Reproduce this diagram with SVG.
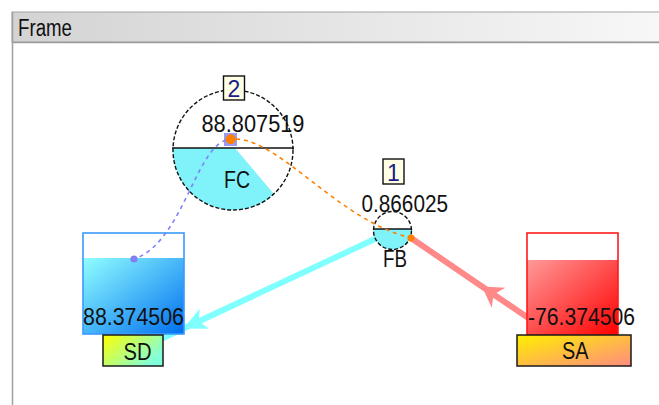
<svg xmlns="http://www.w3.org/2000/svg" width="659" height="405" viewBox="0 0 659 405">
<style>
  text { font-family: "Liberation Sans", Arial, sans-serif; font-size: 23px; fill: #111; }
  .ring { fill: none; stroke: #111; stroke-width: 1.4; stroke-dasharray: 4 2; }
  .level { stroke: #111; stroke-width: 1.6; }
  .cyan { fill: #80f2fa; }
  .flow { fill: none; stroke-width: 6; stroke-linejoin: round; }
  .sig { fill: none; stroke-width: 1.6; stroke-dasharray: 4 4; }
  .tag { fill: #ffffe6; stroke: #111; stroke-width: 1.4; }
  .tagtxt { fill: #1c1c8a; text-anchor: middle; }
  .lbl { stroke: #1a1a1a; stroke-width: 1.5; }
</style>
<defs>
  <linearGradient id="gTitle" x1="0" y1="0" x2="1" y2="0">
    <stop offset="0" stop-color="#d3d3d3"/>
    <stop offset="1" stop-color="#f8f8f8"/>
  </linearGradient>
  <linearGradient id="gBlue" x1="0" y1="0" x2="1" y2="1">
    <stop offset="0" stop-color="#90ffff"/>
    <stop offset="1" stop-color="#006ef0"/>
  </linearGradient>
  <linearGradient id="gRed" x1="0" y1="0" x2="1" y2="1">
    <stop offset="0" stop-color="#ff9a9a"/>
    <stop offset="1" stop-color="#ff0000"/>
  </linearGradient>
  <linearGradient id="gSD" x1="0" y1="0" x2="1" y2="0.6">
    <stop offset="0" stop-color="#ffff00"/>
    <stop offset="1" stop-color="#80ffdc"/>
  </linearGradient>
  <linearGradient id="gSA" x1="0" y1="0" x2="1" y2="1">
    <stop offset="0" stop-color="#fff000"/>
    <stop offset="1" stop-color="#ff8c80"/>
  </linearGradient>
  <marker id="arrCyan" markerUnits="userSpaceOnUse" markerWidth="30" markerHeight="30" orient="auto" overflow="visible">
    <path d="M0,0 L-23,-11 L-17,0 L-23,11 Z" fill="#80ffff"/>
  </marker>
  <marker id="arrRed" markerUnits="userSpaceOnUse" markerWidth="30" markerHeight="30" orient="auto" overflow="visible">
    <path d="M0,0 L-20,-12 L-14,0 L-20,12 Z" fill="#ff8888"/>
  </marker>
</defs>

<rect x="0" y="0" width="659" height="405" fill="#ffffff"/>

<g id="frame">
  <rect x="12" y="12" width="660" height="30" fill="url(#gTitle)" stroke="#a4a4a4" stroke-width="1"/>
  <line x1="12" y1="42.5" x2="659" y2="42.5" stroke="#9c9c9c" stroke-width="1.5"/>
  <line x1="12.5" y1="12" x2="12.5" y2="405" stroke="#a0a0a0" stroke-width="1.5"/>
  <text x="18" y="35.5" font-size="22" textLength="54" lengthAdjust="spacingAndGlyphs" fill="#222">Frame</text>
</g>

<g id="connectors-flow">
  <path class="flow" stroke="#80ffff" d="M392,231 L183.5,328.5 L140,349" marker-mid="url(#arrCyan)"/>
  <path class="flow" stroke="#ff8888" d="M540,326 L482,286.5 L411,238" marker-mid="url(#arrRed)"/>
</g>

<g id="node-FC">
  <path class="cyan" d="M235,148 L273.9,193.9 A60,60 0 0 1 173.03,148 Z"/>
  <circle class="ring" cx="233" cy="150" r="60"/>
  <line class="level" x1="172" y1="148" x2="294" y2="148"/>
  <text x="201.5" y="132" textLength="103" lengthAdjust="spacingAndGlyphs">88.807519</text>
  <text x="224" y="187.5" textLength="26" lengthAdjust="spacingAndGlyphs">FC</text>
  <rect x="224" y="133" width="13" height="13" fill="#9a9af6"/>
  <circle cx="230.7" cy="139.3" r="5" fill="#ff8000"/>
  <rect class="tag" x="223.5" y="76" width="21" height="24"/>
  <text class="tagtxt" x="234" y="96.5">2</text>
</g>

<g id="node-FB">
  <path class="cyan" d="M373.56,229 A19,19 0 1 0 411.44,229 Z"/>
  <circle class="ring" cx="392.5" cy="230.5" r="19" stroke-dasharray="3 1.5"/>
  <line class="level" x1="373" y1="229" x2="412" y2="229"/>
  <text x="361.5" y="211.5" textLength="86.5" lengthAdjust="spacingAndGlyphs">0.866025</text>
  <text x="383" y="267" textLength="24" lengthAdjust="spacingAndGlyphs">FB</text>
  <circle cx="411" cy="238" r="3.6" fill="#ff8000"/>
  <rect class="tag" x="383" y="159" width="21" height="25"/>
  <text class="tagtxt" x="393.5" y="180.5">1</text>
</g>

<g id="node-SD">
  <rect x="83" y="233" width="101" height="101" fill="#ffffff"/>
  <rect x="83" y="258" width="101" height="76" fill="url(#gBlue)"/>
  <rect x="83" y="233" width="101" height="101" fill="none" stroke="#3a9aff" stroke-width="1.6"/>
  <circle cx="134" cy="259" r="3.6" fill="#8080f0"/>
  <text x="83" y="325" textLength="101" lengthAdjust="spacingAndGlyphs">88.374506</text>
  <rect class="lbl" x="103" y="335" width="60" height="31" fill="url(#gSD)"/>
  <text x="123.5" y="359.5" textLength="28" lengthAdjust="spacingAndGlyphs">SD</text>
</g>

<g id="node-SA">
  <rect x="527" y="233" width="91" height="102" fill="#ffffff"/>
  <rect x="527" y="260" width="91" height="75" fill="url(#gRed)"/>
  <rect x="527" y="233" width="91" height="102" fill="none" stroke="#ff1a1a" stroke-width="1.6"/>
  <text x="528" y="325" textLength="107" lengthAdjust="spacingAndGlyphs">-76.374506</text>
  <rect class="lbl" x="517" y="335" width="114" height="31" fill="url(#gSA)"/>
  <text x="562" y="359" textLength="26.5" lengthAdjust="spacingAndGlyphs">SA</text>
</g>

<g id="connectors-signal">
  <path class="sig" stroke="#8080ff" d="M226,140 C195,150 182,243 134,259"/>
  <path class="sig" stroke="#ff8000" d="M236,139 C282,141 338,220 411,238"/>
</g>
</svg>
